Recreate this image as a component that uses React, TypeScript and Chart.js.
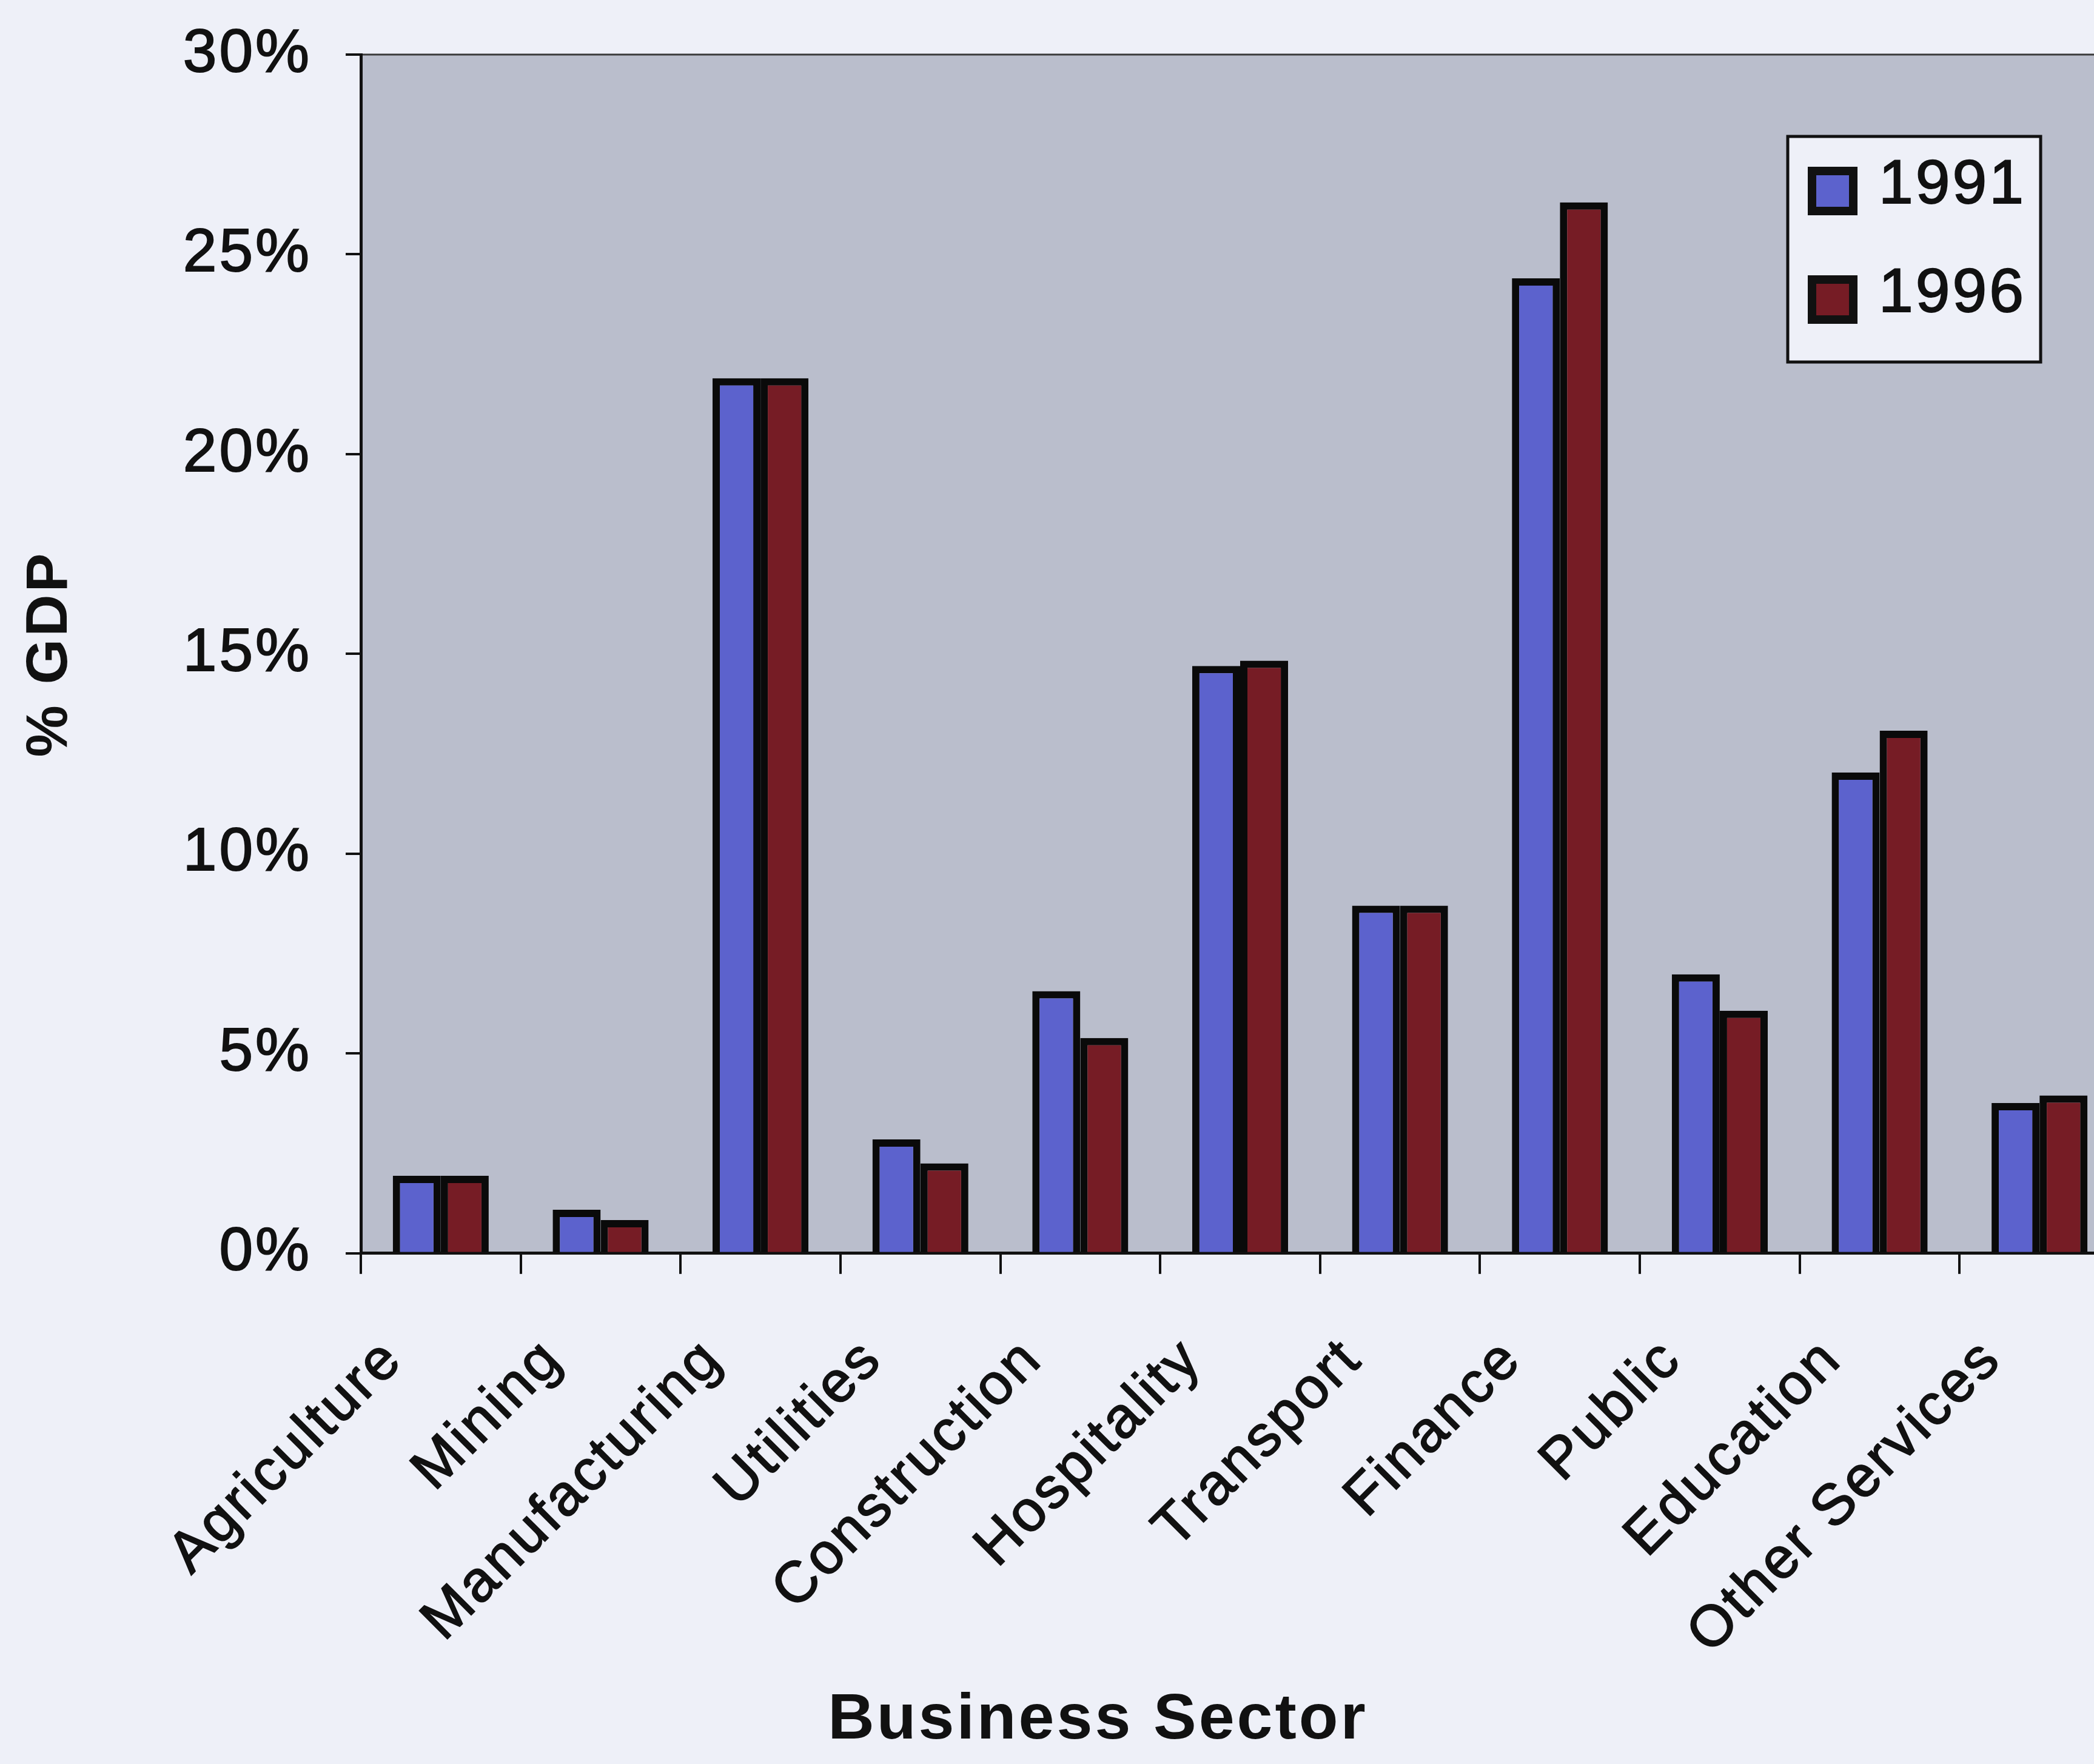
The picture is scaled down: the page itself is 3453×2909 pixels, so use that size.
import React, { useEffect, useRef } from 'react';
import { Chart, registerables } from 'chart.js';

Chart.register(...registerables);

const categories = [
  'Agriculture',
  'Mining',
  'Manufacturing',
  'Utilities',
  'Construction',
  'Hospitality',
  'Transport',
  'Finance',
  'Public',
  'Education',
  'Other Services',
];
const seriesLabels = ['1991', '1996'];
const values1991 = [1.94, 1.09, 21.9, 2.85, 6.56, 14.7, 8.7, 24.4, 6.98, 12.03, 3.76];
const values1996 = [1.94, 0.83, 21.9, 2.25, 5.39, 14.83, 8.7, 26.3, 6.07, 13.08, 3.95];
const yTickValues = [0, 5, 10, 15, 20, 25, 30];
const xTitle = 'Business Sector';
const yTitle = '% GDP';

const FONT = "'Liberation Sans', Arial, Helvetica, sans-serif";
const PAGE_BG = '#EEF0F8';
const PLOT_BG = '#BABECC';
const BLUE = '#5C62CD';
const RED = '#761C25';
const INK = '#111111';

const textSpacing = {
  id: 'textSpacing',
  beforeUpdate(chart: any) {
    (chart.ctx as any).letterSpacing = '4px';
  },
  beforeDraw(chart: any) {
    (chart.ctx as any).letterSpacing = '4px';
  },
};

const plotBackground = {
  id: 'plotBackground',
  beforeDraw(chart: any) {
    const { ctx, chartArea } = chart;
    ctx.save();
    ctx.fillStyle = PLOT_BG;
    ctx.fillRect(chartArea.left, chartArea.top, chartArea.right - chartArea.left, chartArea.bottom - chartArea.top);
    ctx.strokeStyle = '#3a3a3a';
    ctx.lineWidth = 3;
    ctx.beginPath();
    ctx.moveTo(chartArea.left, chartArea.top);
    ctx.lineTo(chartArea.right, chartArea.top);
    ctx.stroke();
    ctx.restore();
  },
};

const boxLegend = {
  id: 'boxLegend',
  afterDatasetsDraw(chart: any) {
    const { ctx, chartArea } = chart;
    const x0 = chartArea.right - 547;
    const y0 = chartArea.top + 135;
    const w = 417;
    const h = 372;
    ctx.save();
    ctx.fillStyle = PAGE_BG;
    ctx.fillRect(x0, y0, w, h);
    ctx.strokeStyle = '#111';
    ctx.lineWidth = 5;
    ctx.strokeRect(x0, y0, w, h);
    chart.data.datasets.forEach((ds: any, i: number) => {
      const rowCenter = y0 + 90 + i * 179;
      const sx = x0 + 33;
      const sy = rowCenter - 40;
      ctx.fillStyle = '#111';
      ctx.fillRect(sx, sy, 82, 80);
      ctx.fillStyle = ds.backgroundColor;
      ctx.fillRect(sx + 14, sy + 14, 54, 52);
      ctx.fillStyle = INK;
      ctx.strokeStyle = INK;
      ctx.lineWidth = 2;
      ctx.font = `102px ${FONT}`;
      ctx.textAlign = 'left';
      ctx.textBaseline = 'middle';
      ctx.strokeText(ds.label, x0 + 150, rowCenter - 8);
      ctx.fillText(ds.label, x0 + 150, rowCenter - 8);
    });
    ctx.restore();
  },
};

export default function App() {
  const canvasRef = useRef<HTMLCanvasElement | null>(null);

  useEffect(() => {
    document.body.style.margin = '0';
    document.body.style.background = PAGE_BG;
    const canvas = canvasRef.current;
    if (!canvas) return;
    const chart = new Chart(canvas, {
      type: 'bar',
      data: {
        labels: categories,
        datasets: [
          {
            label: seriesLabels[0],
            data: values1991,
            backgroundColor: BLUE,
            borderColor: '#0a0a0a',
            borderWidth: 12,
          },
          {
            label: seriesLabels[1],
            data: values1996,
            backgroundColor: RED,
            borderColor: '#0a0a0a',
            borderWidth: 12,
          },
        ],
      },
      options: {
        responsive: false,
        animation: false,
        devicePixelRatio: 1,
        layout: { padding: { left: 126, right: 0, top: 90, bottom: 0 } },
        datasets: {
          bar: { categoryPercentage: 0.6, barPercentage: 1.0 },
        },
        plugins: {
          legend: { display: false },
          tooltip: { enabled: false },
          title: {
            display: true,
            position: 'bottom',
            text: xTitle,
            color: INK,
            font: { family: FONT, size: 106, weight: 'bold', lineHeight: 1.2 },
            padding: { top: 0, bottom: 8 },
          },
        },
        scales: {
          x: {
            type: 'category',
            afterFit(scale: any) {
              scale.height = 707;
              scale.paddingLeft = 0;
              scale.paddingRight = 0;
            },
            grid: {
              display: true,
              drawOnChartArea: false,
              drawTicks: true,
              tickLength: 34,
              color: '#111',
              lineWidth: 4,
              offset: true,
            },
            border: { display: true, color: '#111', width: 5 },
            ticks: {
              autoSkip: false,
              minRotation: 45,
              maxRotation: 45,
              labelOffset: -78,
              padding: 86,
              color: INK,
              textStrokeColor: INK,
              textStrokeWidth: 2,
              font: { family: FONT, size: 95 },
            },
          },
          y: {
            type: 'linear',
            min: 0,
            max: 30,
            afterFit(scale: any) {
              scale.width = 469;
              scale.paddingTop = 0;
              scale.paddingBottom = 0;
            },
            afterBuildTicks(scale: any) {
              scale.ticks = yTickValues.map((v) => ({ value: v }));
            },
            grid: {
              display: true,
              drawOnChartArea: false,
              drawTicks: true,
              tickLength: 25,
              color: '#111',
              lineWidth: 4,
            },
            border: { display: true, color: '#111', width: 5 },
            ticks: {
              padding: 56,
              color: INK,
              textStrokeColor: INK,
              textStrokeWidth: 2,
              font: { family: FONT, size: 100 },
              callback: (v: any) => `${v}%`,
            },
            title: {
              display: true,
              text: yTitle,
              color: INK,
              font: { family: FONT, size: 96, weight: 'bold', lineHeight: 1.2 },
              padding: { top: -100, bottom: 0 },
            },
          },
        },
      },
      plugins: [textSpacing, plotBackground, boxLegend],
    });
    return () => chart.destroy();
  }, []);

  return (
    <div style={{ width: 3453, height: 2909, overflow: 'hidden', background: PAGE_BG }}>
      <canvas ref={canvasRef} width={3495} height={2909} style={{ display: 'block' }} />
    </div>
  );
}
